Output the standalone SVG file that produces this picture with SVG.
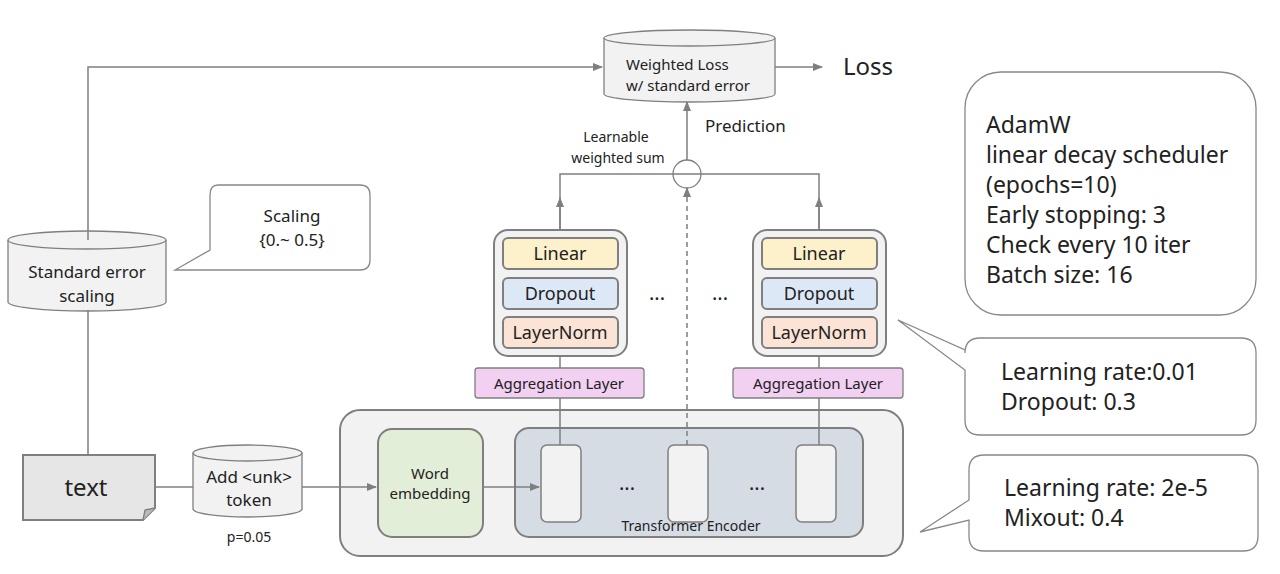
<svg xmlns="http://www.w3.org/2000/svg" width="1280" height="574" viewBox="0 0 1280 574">
<defs>
<marker id="ah" markerWidth="10" markerHeight="8" refX="9" refY="4" orient="auto" markerUnits="userSpaceOnUse"><path d="M0,0 L10,4 L0,8 Z" fill="#7f7f7f"/></marker>
<style>
text{font-family:"Noto Sans","Open Sans",sans-serif;fill:#222}
.ln{stroke:#7f7f7f;stroke-width:1.5;fill:none}
.cyl{fill:#f2f2f2;stroke:#7f7f7f;stroke-width:1.3}
.bub{fill:#fff;stroke:#888;stroke-width:1.3}
.in{stroke:#7f7f7f;stroke-width:2}
.m{text-anchor:middle}
</style>
</defs>
<g id="loss-node">
<path class="cyl" d="M604,38 V94 A85.5,8 0 0 0 775,94 V38"/>
<ellipse class="cyl" cx="689.5" cy="38" rx="85.5" ry="8"/>
<text x="626" y="70" font-size="15">Weighted Loss</text>
<text x="626" y="91" font-size="15">w/ standard error</text>
</g>
<text x="843" y="75" font-size="24">Loss</text>
<text x="705" y="132" font-size="17">Prediction</text>
<text x="616" y="142" font-size="14" class="m">Learnable</text>
<text x="618" y="163" font-size="14" class="m">weighted sum</text>
<g id="stderr">
<path class="cyl" d="M8,240 V302 A79,9 0 0 0 166,302 V240"/>
<ellipse class="cyl" cx="87" cy="240" rx="79" ry="9"/>
<text x="87" y="278" font-size="17" class="m">Standard error</text>
<text x="87" y="302" font-size="17" class="m">scaling</text>
</g>
<g id="scaling-bubble">
<path class="bub" d="M218,185 H360 Q370,185 370,195 V260 Q370,270 360,270 H230 L175,270 L210,250 V195 Q210,185 218,185 Z"/>
<text x="292" y="222" font-size="17" class="m">Scaling</text>
<text x="292" y="246" font-size="17" class="m">{0.~ 0.5}</text>
</g>
<g id="text-node">
<path d="M23,455 H155 V508 L143,520 H23 Z" fill="#e6e6e6" stroke="#7f7f7f" stroke-width="2"/>
<path d="M143,520 L145,510 L155,508" fill="#bbb" stroke="#7f7f7f" stroke-width="1.3"/>
<text x="86" y="496" font-size="24" class="m">text</text>
</g>
<g id="unk">
<path class="cyl" d="M193,453 V509 A54.5,8 0 0 0 302,509 V453"/>
<ellipse class="cyl" cx="247.5" cy="453" rx="54.5" ry="8"/>
<text x="249" y="483" font-size="17" class="m">Add &lt;unk&gt;</text>
<text x="249" y="506" font-size="17" class="m">token</text>
<text x="249" y="542" font-size="14" class="m">p=0.05</text>
</g>
<g id="model-box">
<rect x="340" y="410" width="563" height="146" rx="20" fill="#f2f2f2" stroke="#7f7f7f" stroke-width="2"/>
</g>
<g id="word-embedding">
<rect x="378" y="429" width="105" height="108" rx="14" fill="#e2eed8" stroke="#7f7f7f" stroke-width="2"/>
<text x="430" y="479" font-size="15" class="m">Word</text>
<text x="430" y="499" font-size="15" class="m">embedding</text>
</g>
<g id="transformer">
<rect x="515" y="428" width="348" height="109" rx="14" fill="#d6dce4" stroke="#7f7f7f" stroke-width="2"/>
<rect x="541" y="445" width="40" height="77" rx="6" fill="#f2f2f2" stroke="#7f7f7f" stroke-width="1.5"/>
<rect x="668" y="445" width="40" height="77" rx="6" fill="#f2f2f2" stroke="#7f7f7f" stroke-width="1.5"/>
<rect x="796" y="445" width="40" height="77" rx="6" fill="#f2f2f2" stroke="#7f7f7f" stroke-width="1.5"/>
<text x="627" y="490" font-size="20" class="m">...</text>
<text x="757" y="490" font-size="20" class="m">...</text>
<text x="691" y="531" font-size="14" class="m">Transformer Encoder</text>
</g>
<g id="head1">
<rect x="475" y="368" width="169" height="30" rx="3" fill="#f2d0f2" stroke="#7f7f7f" stroke-width="1.3"/>
<text x="559" y="389" font-size="15" class="m">Aggregation Layer</text>
<rect x="494" y="230" width="133" height="126" rx="14" fill="#f2f2f2" stroke="#7f7f7f" stroke-width="2"/>
<rect x="503" y="238" width="115" height="31" rx="5" fill="#fdf1cc" class="in"/>
<rect x="503" y="278" width="115" height="31" rx="5" fill="#dde8f6" class="in"/>
<rect x="503" y="317" width="115" height="31" rx="5" fill="#fbe4d5" class="in"/>
<text x="560" y="260" font-size="18" class="m">Linear</text>
<text x="560" y="300" font-size="18" class="m">Dropout</text>
<text x="560" y="339" font-size="18" class="m">LayerNorm</text>
</g>
<text x="657" y="300" font-size="20" class="m">...</text>
<text x="720" y="300" font-size="20" class="m">...</text>
<g id="head2">
<rect x="733" y="368" width="170" height="30" rx="3" fill="#f2d0f2" stroke="#7f7f7f" stroke-width="1.3"/>
<text x="818" y="389" font-size="15" class="m">Aggregation Layer</text>
<rect x="753" y="230" width="133" height="126" rx="14" fill="#f2f2f2" stroke="#7f7f7f" stroke-width="2"/>
<rect x="762" y="238" width="115" height="31" rx="5" fill="#fdf1cc" class="in"/>
<rect x="762" y="278" width="115" height="31" rx="5" fill="#dde8f6" class="in"/>
<rect x="762" y="317" width="115" height="31" rx="5" fill="#fbe4d5" class="in"/>
<text x="819" y="260" font-size="18" class="m">Linear</text>
<text x="819" y="300" font-size="18" class="m">Dropout</text>
<text x="819" y="339" font-size="18" class="m">LayerNorm</text>
</g>
<g id="optim-bubble">
<rect class="bub" x="965" y="72" width="291" height="243" rx="36"/>
<text font-size="23"><tspan x="986" y="133">AdamW</tspan><tspan x="986" y="163">linear decay scheduler</tspan><tspan x="986" y="193">(epochs=10)</tspan><tspan x="986" y="223">Early stopping: 3</tspan><tspan x="986" y="253">Check every 10 iter</tspan><tspan x="986" y="283">Batch size: 16</tspan></text>
</g>
<g id="head-bubble">
<path class="bub" d="M980,338 H1241 Q1256,338 1256,353 V420 Q1256,435 1241,435 H980 Q965,435 965,420 V370 L898,320 L965,350 V353 Q965,338 980,338 Z"/>
<text x="1001" y="380" font-size="23">Learning rate:0.01</text>
<text x="1001" y="410" font-size="23">Dropout: 0.3</text>
</g>
<g id="enc-bubble">
<path class="bub" d="M984,455 H1243 Q1258,455 1258,470 V536 Q1258,551 1243,551 H984 Q969,551 969,536 V520 L920,532 L969,500 V470 Q969,455 984,455 Z"/>
<text x="1004" y="496" font-size="23">Learning rate: 2e-5</text>
<text x="1004" y="526" font-size="23">Mixout: 0.4</text>
</g>
<g id="connectors">
<path class="ln" d="M88,455 V310"/>
<path class="ln" d="M88,240 V67 H602" marker-end="url(#ah)"/>
<path class="ln" d="M775,67 H822" marker-end="url(#ah)"/>
<path class="ln" d="M155,487 H193"/>
<path class="ln" d="M302,487 H376" marker-end="url(#ah)"/>
<path class="ln" d="M483,487 H539" marker-end="url(#ah)"/>
<path class="ln" d="M560,445 V398 M560,368 V356"/>
<path class="ln" d="M819,445 V398 M819,368 V356"/>
<path class="ln" d="M560,230 V174 H819 V230"/>
<path class="ln" d="M560,230 V198" marker-end="url(#ah)"/>
<path class="ln" d="M819,230 V198" marker-end="url(#ah)"/>
<path class="ln" d="M687,445 V188" stroke-dasharray="5,4" marker-end="url(#ah)"/>
<path class="ln" d="M687,160 V102" marker-end="url(#ah)"/>
<circle cx="687" cy="174" r="14" fill="none" stroke="#7f7f7f" stroke-width="1.3"/>
</g>
</svg>
